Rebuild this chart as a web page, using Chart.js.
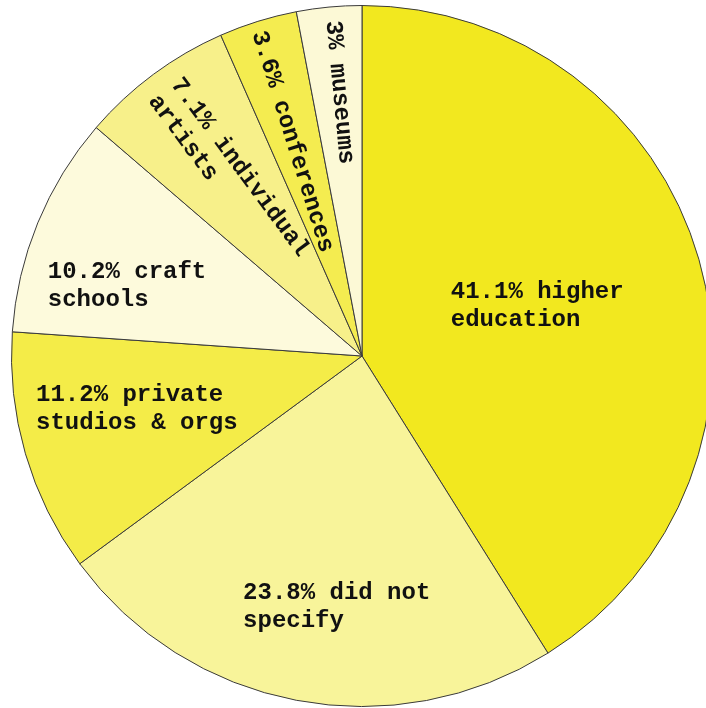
<!DOCTYPE html>
<html>
<head>
<meta charset="utf-8">
<script src="https://cdn.jsdelivr.net/npm/chart.js@4"></script>
<style>
  html, body { margin: 0; padding: 0; background: #fff; overflow: hidden; }
  #wrap { width: 724px; height: 712px; }
</style>
</head>
<body>
<div id="wrap"><canvas id="pie" width="724" height="712"></canvas></div>
<script>
'use strict';

const categories = [
  'higher education',
  'did not specify',
  'private studios & orgs',
  'craft schools',
  'individual artists',
  'conferences',
  'museums'
];
const shares = [41.1, 23.8, 11.2, 10.2, 7.1, 3.6, 3];
const labelLines = [
  ['41.1% higher', 'education'],
  ['23.8% did not', 'specify'],
  ['11.2% private', 'studios & orgs'],
  ['10.2% craft', 'schools'],
  ['7.1% individual', 'artists'],
  ['3.6% conferences'],
  ['3% museums']
];
const sliceColors = ['#f2e81f', '#f8f49a', '#f4ec48', '#fdfadc', '#f7f08a', '#f4ec50', '#fcf9d6'];

// where each label sits: fraction of radius, rotate along radius, small nudge
const labelRadius = [0.52, 0.72, 0.66, 0.70, 0.64, 0.64, 0.75];
const labelRotate = [false, false, false, false, true, true, true];
const labelNudge = [[0, 0], [22, 3], [-3, -12], [-8, 23], [0, 0], [-3, 0], [2, -2]];

const sliceLabels = {
  id: 'sliceLabels',
  afterDatasetsDraw(chart) {
    const ctx = chart.ctx;
    const meta = chart.getDatasetMeta(0);
    ctx.save();
    ctx.font = 'bold 24px "Liberation Mono", "Courier New", monospace';
    ctx.fillStyle = '#111';
    ctx.textAlign = 'left';
    ctx.textBaseline = 'middle';
    const lineHeight = 28;
    meta.data.forEach((arc, i) => {
      const p = arc.getProps(['x', 'y', 'startAngle', 'endAngle', 'outerRadius'], true);
      const mid = (p.startAngle + p.endAngle) / 2;
      const r = p.outerRadius * labelRadius[i];
      const cx = p.x + Math.cos(mid) * r + labelNudge[i][0];
      const cy = p.y + Math.sin(mid) * r + labelNudge[i][1];
      const lines = labelLines[i];
      const blockWidth = Math.max(...lines.map(l => ctx.measureText(l).width));
      ctx.save();
      ctx.translate(cx, cy);
      if (labelRotate[i]) {
        ctx.rotate(mid - Math.PI);
      }
      lines.forEach((line, k) => {
        const dy = (k - (lines.length - 1) / 2) * lineHeight;
        ctx.fillText(line, -blockWidth / 2, dy);
      });
      ctx.restore();
    });
    ctx.restore();
  }
};

new Chart(document.getElementById('pie').getContext('2d'), {
  type: 'pie',
  data: {
    labels: categories,
    datasets: [
      {
        data: shares,
        backgroundColor: sliceColors,
        borderColor: '#3a3a3a',
        borderWidth: 1
      }
    ]
  },
  options: {
    responsive: false,
    animation: false,
    layout: { padding: { top: 5, bottom: 5, left: 11, right: 11 } },
    plugins: {
      legend: { display: false },
      tooltip: { enabled: false }
    }
  },
  plugins: [sliceLabels]
});
</script>
</body>
</html>
